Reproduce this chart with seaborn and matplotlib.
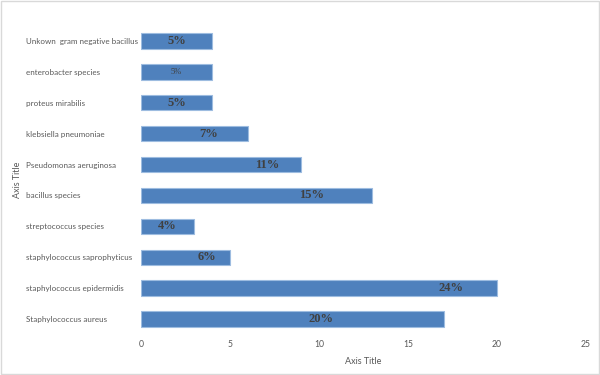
import pandas as pd
import matplotlib.pyplot as plt
import seaborn as sns
from matplotlib.patches import Rectangle

# bacteria, counts and the % labels as shown on the chart (top to bottom)
organisms = ['Unkown  gram negative bacillus', 'enterobacter species', 'proteus mirabilis',
             'klebsiella pneumoniae', 'Pseudomonas aeruginosa', 'bacillus species',
             'streptococcus species', 'staphylococcus saprophyticus',
             'staphylococcus epidermidis', 'Staphylococcus aureus']
counts = [4, 4, 4, 6, 9, 13, 3, 5, 20, 17]
pct_labels = ['5%', '5%', '5%', '7%', '11%', '15%', '4%', '6%', '24%', '20%']
label_x = [2.0, 2.0, 2.0, 3.8, 7.1, 9.6, 1.5, 3.7, 17.4, 10.1]

df = pd.DataFrame({'Organism': organisms, 'Count': counts})

sns.set_style('white')
plt.rcParams['font.family'] = ['Lato', 'DejaVu Sans']

fig, ax = plt.subplots(figsize=(6, 3.75), dpi=100)
fig.subplots_adjust(left=141/600, right=586/600, top=1-25.5/375, bottom=1-334.5/375)

sns.barplot(data=df, x='Count', y='Organism', order=organisms, color='#4F81BD',
            saturation=1, width=0.5, edgecolor='#9DBCE0', linewidth=0.8, ax=ax)

for i, (lab, lx) in enumerate(zip(pct_labels, label_x)):
    if i == 1:
        ax.text(lx, i, lab, ha='center', va='center', fontsize=6,
                family='Liberation Serif', color='#404040')
    else:
        ax.text(lx, i, lab, ha='center', va='center', fontsize=9, fontweight='bold',
                family='Liberation Serif', color='#404040')

ax.set_xlim(0, 25)
ax.set_xticks([0, 5, 10, 15, 20, 25])
ax.set_ylim(len(organisms) - 0.5, -0.5)
sns.despine(ax=ax, left=True, bottom=True)

ax.tick_params(axis='x', length=0, labelsize=6.2, labelcolor='#595959', pad=4)
ax.tick_params(axis='y', length=0, labelsize=5.8, labelcolor='#595959', pad=115*0.72)
for t in ax.get_yticklabels():
    t.set_ha('left')

ax.set_xlabel('Axis Title', fontsize=6.5, color='#595959', labelpad=6)
ax.set_ylabel('Axis Title', fontsize=6.5, color='#595959')
ax.yaxis.set_label_coords(-(141 - 22) / 445, 0.5)

fig.patches.append(Rectangle((0.002, 0.003), 0.996, 0.994, transform=fig.transFigure,
                             fill=False, edgecolor='#D9D9D9', linewidth=1))

plt.savefig('out.png', dpi=100)
